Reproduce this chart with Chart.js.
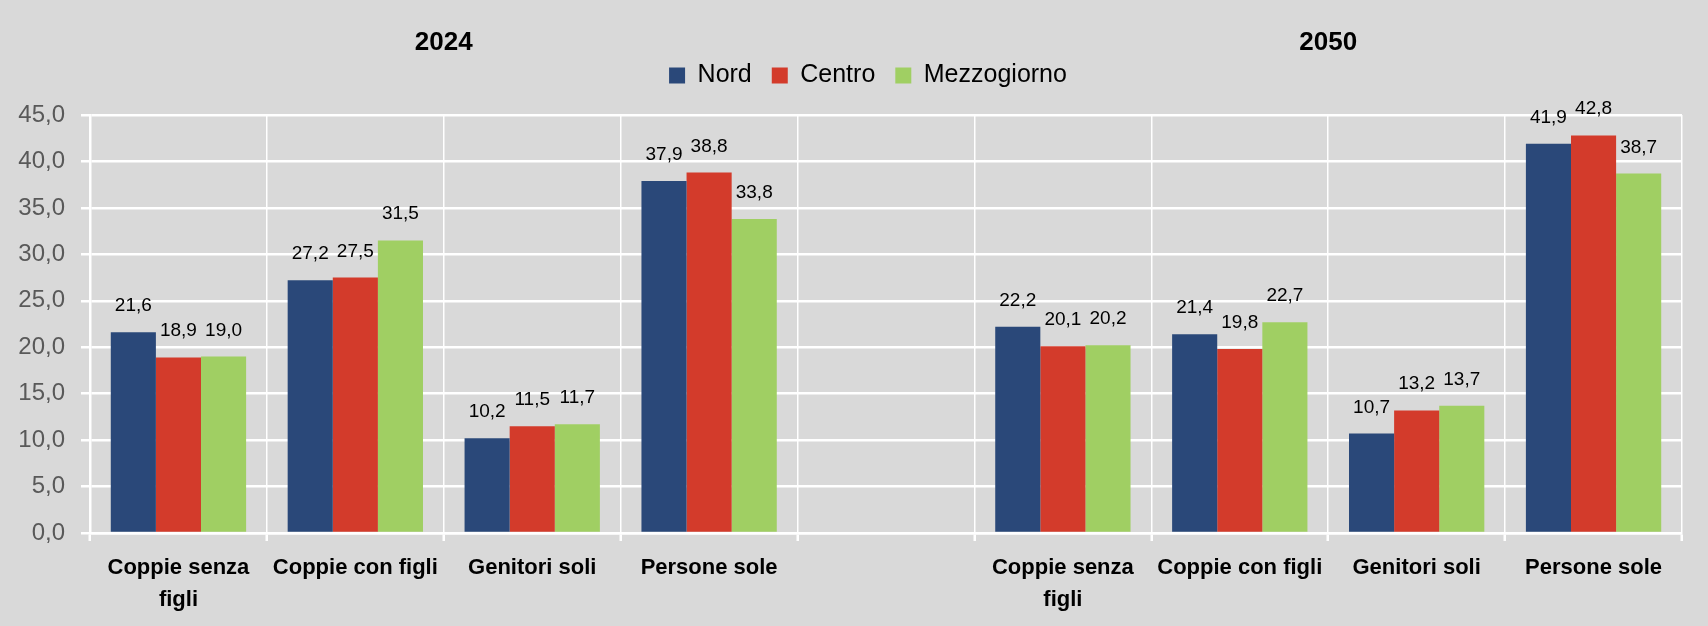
<!DOCTYPE html>
<html>
<head>
<meta charset="utf-8">
<script src="https://cdn.jsdelivr.net/npm/chart.js@4"></script>
<style>
  html, body { margin: 0; padding: 0; background: #d9d9d9; }
  #chart { display: block; }
</style>
</head>
<body>
<canvas id="chart" width="1708" height="626"></canvas>
<script>
// categories: 2024 block, empty spacer, 2050 block
var categories = [['Coppie senza', 'figli'], 'Coppie con figli', 'Genitori soli', 'Persone sole', '',
                  ['Coppie senza', 'figli'], 'Coppie con figli', 'Genitori soli', 'Persone sole'];
var years = ['2024', '2050'];
var seriesNames = ['Nord', 'Centro', 'Mezzogiorno'];
var nord        = [21.6, 27.2, 10.2, 37.9, null, 22.2, 21.4, 10.7, 41.9];
var centro      = [18.9, 27.5, 11.5, 38.8, null, 20.1, 19.8, 13.2, 42.8];
var mezzogiorno = [19.0, 31.5, 11.7, 33.8, null, 20.2, 22.7, 13.7, 38.7];
var yMin = 0, yMax = 45, yStep = 5;

var colors = ['#2a4879', '#d33b2b', '#a0cf63'];
var FONT = '"Liberation Sans", Arial, sans-serif';

function fmt(v) { return v.toFixed(1).replace('.', ','); }

// value labels above bars + year headings
var labelsPlugin = {
  id: 'labels',
  afterLayout: function(chart) {
    // legend in the original sits a bit right of the canvas centre
    chart.legend.left += 22;
    chart.legend.right += 22;
  },
  afterDatasetsDraw: function(chart) {
    var ctx = chart.ctx;
    ctx.save();
    ctx.fillStyle = '#000';
    ctx.font = '19px ' + FONT;
    ctx.textAlign = 'center';
    ctx.textBaseline = 'alphabetic';
    chart.data.datasets.forEach(function(ds, i) {
      chart.getDatasetMeta(i).data.forEach(function(bar, j) {
        var v = ds.data[j];
        if (v == null) return;
        ctx.fillText(fmt(v), bar.x, bar.y - 21);
      });
    });
    // year headings centred over each block
    var x = chart.scales.x;
    ctx.font = 'bold 26px ' + FONT;
    ctx.textBaseline = 'middle';
    ctx.fillText(years[0], (x.getPixelForValue(0) + x.getPixelForValue(3)) / 2, 43);
    ctx.fillText(years[1], (x.getPixelForValue(5) + x.getPixelForValue(8)) / 2, 43);
    ctx.restore();
  }
};

new Chart(document.getElementById('chart'), {
  type: 'bar',
  data: {
    labels: categories,
    datasets: [
      { label: seriesNames[0], data: nord, backgroundColor: colors[0] },
      { label: seriesNames[1], data: centro, backgroundColor: colors[1] },
      { label: seriesNames[2], data: mezzogiorno, backgroundColor: colors[2] }
    ]
  },
  options: {
    responsive: false,
    animation: false,
    maintainAspectRatio: false,
    layout: { padding: { top: 43, left: 10, right: 26, bottom: 0 } },
    datasets: { bar: { categoryPercentage: 0.765, barPercentage: 1, borderWidth: 0 } },
    plugins: {
      legend: {
        position: 'top',
        labels: {
          color: '#000',
          font: { family: FONT, size: 25 },
          boxWidth: 16,
          boxHeight: 16,
          padding: 20
        }
      },
      // empty spacer between legend and plot area
      title: { display: true, text: '', weight: 500, font: { size: 12, lineHeight: 1 }, padding: { top: 0, bottom: 5 } },
      tooltip: { enabled: false }
    },
    scales: {
      x: {
        afterFit: function(s) { s.height = 93; },
        grid: { color: '#ffffff', lineWidth: 1.5, tickLength: 8, tickWidth: 2.5, tickColor: '#ffffff' },
        border: { color: '#ffffff', width: 2.5 },
        ticks: {
          color: '#000',
          font: { family: FONT, size: 22, weight: 'bold', lineHeight: 1.45 },
          padding: 11,
          maxRotation: 0,
          autoSkip: false
        }
      },
      y: {
        min: yMin,
        max: yMax,
        afterFit: function(s) { s.width = 80; },
        grid: { color: '#ffffff', lineWidth: 2.5, tickLength: 9, tickColor: '#ffffff' },
        border: { color: '#ffffff', width: 2.5 },
        ticks: {
          stepSize: yStep,
          color: '#595959',
          font: { family: FONT, size: 24 },
          padding: 16,
          callback: function(v) { return fmt(v); }
        }
      }
    }
  },
  plugins: [labelsPlugin]
});
</script>
</body>
</html>
